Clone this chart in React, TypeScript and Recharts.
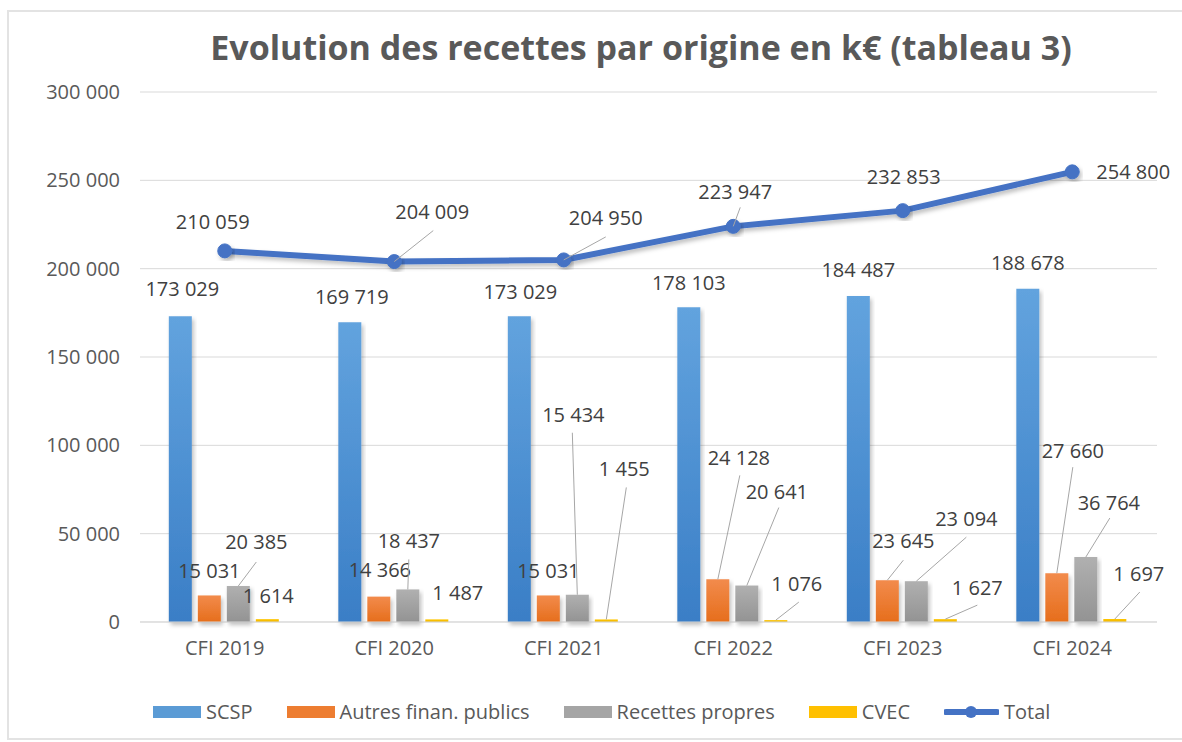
import React from 'react';
import { ComposedChart, Bar, Line, XAxis, YAxis, CartesianGrid, LabelList, Legend } from 'recharts';

const categories = ['CFI 2019', 'CFI 2020', 'CFI 2021', 'CFI 2022', 'CFI 2023', 'CFI 2024'];
const scsp = [173029, 169719, 173029, 178103, 184487, 188678];
const autres = [15031, 14366, 15031, 24128, 23645, 27660];
const propres = [20385, 18437, 15434, 20641, 23094, 36764];
const cvec = [1614, 1487, 1455, 1076, 1627, 1697];
const total = [210059, 204009, 204950, 223947, 232853, 254800];
const yTicks = [0, 50000, 100000, 150000, 200000, 250000, 300000];

const data = categories.map((c, i) => ({
  name: c,
  scsp: scsp[i],
  autres: autres[i],
  propres: propres[i],
  cvec: cvec[i],
  total: total[i],
}));

// label placement: [dx, dy] from mark anchor, optional [lx, ly] leader end from label centre
type Place = [number, number, [number, number]?];
const scspPlace: Place[] = [[2, -28], [2, -26], [1, -25], [0, -25], [0, -27], [0, -26]];
const autresPlace: Place[] = [[0, -25], [1, -27], [0, -25], [21, -122, [1, 18]], [16, -40, [0, 20]], [16, -123, [0, 17]]];
const propresPlace: Place[] = [[18, -44, [0, 20]], [1, -49, [0, 19]], [-4, -180, [-1, 18]], [30, -94, [2, 16]], [50, -63, [0, 19]], [23, -55, [1, 16]]];
const cvecPlace: Place[] = [[1, -24], [21, -27], [18, -151, [2, 19]], [21, -37, [2, 19]], [32, -32, [0, 18]], [24, -46, [1, 19]]];
const totalPlace: Place[] = [[-12, -29], [38, -50, [1, 19]], [42, -42, [0, 19]], [2, -35, [5, 16]], [1, -34], [61, 0]];

const fmt = (v: number) => String(v).replace(/\B(?=(\d{3})+(?!\d))/g, ' ');
const FONT = '"Open Sans", sans-serif';

const makeLabel = (place: Place[]) => (props: any) => {
  const { x, y, width, index, value } = props;
  const ax = Number(x) + (Number(width) || 0) / 2;
  const ay = Number(y);
  const p = place[index];
  const lx = ax + p[0];
  const ly = ay + p[1];
  return (
    <g>
      {p[2] && (
        <line x1={ax} y1={ay} x2={lx + p[2][0]} y2={ly + p[2][1]} stroke="#A6A6A6" strokeWidth={1} />
      )}
      <text x={lx} y={ly} textAnchor="middle" dominantBaseline="central" fontSize={20} fill="#404040" fontFamily={FONT}>
        {fmt(value)}
      </text>
    </g>
  );
};

const legendItems = [
  { name: 'SCSP', color: '#5B9BD5' },
  { name: 'Autres finan. publics', color: '#ED7D31' },
  { name: 'Recettes propres', color: '#A5A5A5' },
  { name: 'CVEC', color: '#FFC000' },
  { name: 'Total', color: '#4472C4', line: true },
];

const renderLegend = () => (
  <div style={{ display: 'flex', alignItems: 'center', gap: 34, paddingLeft: 153, fontFamily: FONT, fontSize: 20, color: '#595959' }}>
    {legendItems.map((it) => (
      <div key={it.name} style={{ display: 'flex', alignItems: 'center', gap: 5 }}>
        {it.line ? (
          <svg width={55} height={14}>
            <line x1={2} y1={7} x2={53} y2={7} stroke={it.color} strokeWidth={6} strokeLinecap="round" />
            <circle cx={27} cy={7} r={6} fill={it.color} />
          </svg>
        ) : (
          <div style={{ width: 48, height: 12, background: it.color }} />
        )}
        <span>{it.name}</span>
      </div>
    ))}
  </div>
);

export default function App() {
  return (
    <div style={{ position: 'absolute', left: 0, top: 0, width: 1182, height: 742, background: '#fff', fontFamily: FONT }}>
      <div style={{ position: 'absolute', left: 7, top: 10, width: 1180, height: 730, border: '2px solid #E3E3E3', boxSizing: 'border-box' }} />
      <div style={{ position: 'absolute', left: 0, top: 24, width: 1182, paddingLeft: 100, boxSizing: 'border-box', textAlign: 'center', fontWeight: 700, fontSize: 34, color: '#595959', whiteSpace: 'nowrap' }}>
        Evolution des recettes par origine en k€ (tableau 3)
      </div>
      <ComposedChart
        width={1182}
        height={742}
        data={data}
        margin={{ top: 92, right: 25, bottom: 90, left: 40 }}
        barCategoryGap="17%"
        barGap={6}
      >
        <defs>
          <linearGradient id="gBlue" x1="0" y1="0" x2="0" y2="1">
            <stop offset="0%" stopColor="#62A3DE" />
            <stop offset="100%" stopColor="#3A7EC6" />
          </linearGradient>
          <linearGradient id="gOrange" x1="0" y1="0" x2="0" y2="1">
            <stop offset="0%" stopColor="#F28B4C" />
            <stop offset="100%" stopColor="#E66E1C" />
          </linearGradient>
          <linearGradient id="gGray" x1="0" y1="0" x2="0" y2="1">
            <stop offset="0%" stopColor="#B0B0B0" />
            <stop offset="100%" stopColor="#939393" />
          </linearGradient>
          <linearGradient id="gYellow" x1="0" y1="0" x2="0" y2="1">
            <stop offset="0%" stopColor="#FFC600" />
            <stop offset="100%" stopColor="#F0B400" />
          </linearGradient>
          <filter id="shadow" x="-20%" y="-20%" width="140%" height="140%">
            <feDropShadow dx="2" dy="3" stdDeviation="2" floodColor="#000" floodOpacity="0.25" />
          </filter>
        </defs>
        <CartesianGrid vertical={false} stroke="#D9D9D9" />
        <XAxis
          dataKey="name"
          height={30}
          axisLine={{ stroke: '#D9D9D9' }}
          tickLine={false}
          tickMargin={13}
          tick={{ fontSize: 20, fill: '#595959', fontFamily: FONT }}
        />
        <YAxis
          width={100}
          domain={[0, 300000]}
          ticks={yTicks}
          axisLine={false}
          tickLine={false}
          tickMargin={14}
          tickFormatter={fmt}
          tick={{ fontSize: 20, fill: '#595959', fontFamily: FONT }}
        />
        <Legend verticalAlign="middle" align="center" wrapperStyle={{ top: 698, left: 0, width: 1182 }} content={renderLegend} />
        <Bar dataKey="scsp" name="SCSP" fill="url(#gBlue)" filter="url(#shadow)" isAnimationActive={false}>
          <LabelList dataKey="scsp" content={makeLabel(scspPlace)} />
        </Bar>
        <Bar dataKey="autres" name="Autres finan. publics" fill="url(#gOrange)" filter="url(#shadow)" isAnimationActive={false}>
          <LabelList dataKey="autres" content={makeLabel(autresPlace)} />
        </Bar>
        <Bar dataKey="propres" name="Recettes propres" fill="url(#gGray)" filter="url(#shadow)" isAnimationActive={false}>
          <LabelList dataKey="propres" content={makeLabel(propresPlace)} />
        </Bar>
        <Bar dataKey="cvec" name="CVEC" fill="url(#gYellow)" isAnimationActive={false}>
          <LabelList dataKey="cvec" content={makeLabel(cvecPlace)} />
        </Bar>
        <Line
          dataKey="total"
          name="Total"
          stroke="#4472C4"
          strokeWidth={6}
          filter="url(#shadow)"
          dot={{ r: 7, fill: '#4472C4', stroke: '#4472C4', strokeWidth: 1 }}
          isAnimationActive={false}
        >
          <LabelList dataKey="total" content={makeLabel(totalPlace)} />
        </Line>
      </ComposedChart>
    </div>
  );
}
